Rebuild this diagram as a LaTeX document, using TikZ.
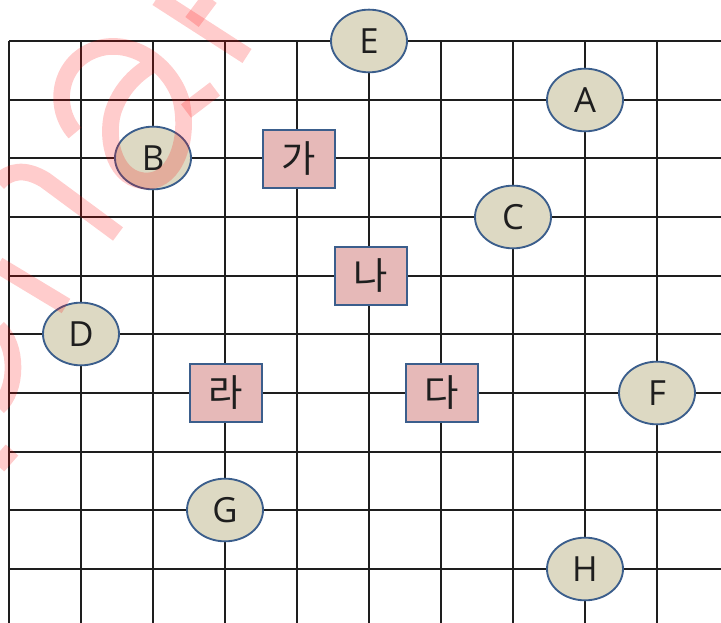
\documentclass[tikz,border=0pt]{standalone}
\usepackage{fontspec}
\setmainfont{Noto Sans CJK KR}
\newfontfamily\latnfont{Open Sans}
\usetikzlibrary{shapes.geometric}
\definecolor{SpotFill}{HTML}{DDD9C3}
\definecolor{BoxFill}{HTML}{E6B9B8}
\definecolor{EdgeBlue}{HTML}{3B5E8C}
\definecolor{GridInk}{HTML}{1E1E1E}
\definecolor{MarkRed}{HTML}{FF0000}

\begin{document}
\begin{tikzpicture}[
    x=0.75pt, y=-0.75pt,
    gridline/.style={
      draw=GridInk,
      line width=1.3pt
    },
    spot/.style={
      ellipse,
      draw=EdgeBlue,
      fill=SpotFill,
      line width=1.4pt,
      minimum width=57pt,
      minimum height=47pt,
      inner sep=0pt,
      text=GridInk,
      font=\latnfont\fontsize{26}{26}\selectfont
    },
    site/.style={
      rectangle,
      draw=EdgeBlue,
      fill=BoxFill,
      line width=1.4pt,
      minimum width=54pt,
      minimum height=44pt,
      inner sep=0pt,
      text=GridInk,
      font=\fontsize{28}{28}\selectfont
    },
    inkstroke/.style={
      draw=MarkRed,
      draw opacity=0.2,
      line width=12.5pt
    }]

    \useasboundingbox (0,0) rectangle (721,623);

    % Grid
    \foreach \i in {0,...,9}
      \draw[gridline] (9,41+58.67*\i) -- (721,41+58.67*\i);
    \foreach \i in {0,...,9}
      \draw[gridline] (9+72*\i,41) -- (9+72*\i,623);

    % Oval markers
    \node[spot] (E) at (369,41) {E};
    \node[spot] (A) at (585,100) {A};
    \node[spot] (B) at (153,158) {B};
    \node[spot] (C) at (513,217) {C};
    \node[spot] (D) at (81,334) {D};
    \node[spot] (F) at (657,393) {F};
    \node[spot] (G) at (225,510) {G};
    \node[spot] (H) at (585,569) {H};

    % Square sites
    \node[site] (ga) at (299,159) {가};
    \node[site] (na) at (371,276) {나};
    \node[site] (da) at (442,393) {다};
    \node[site] (ra) at (226,393) {라};

    % Watermark strokes
    \draw[inkstroke] (75,133) .. controls (50,105) and (60,55) .. (105,47)
      .. controls (140,42) and (172,70) .. (181,100)
      .. controls (190,140) and (175,180) .. (148,181)
      .. controls (115,182) and (105,140) .. (113,112)
      .. controls (120,90) and (135,75) .. (150,66);
    \draw[inkstroke] (186,111) -- (215,89);
    \draw[inkstroke] (157,-2) -- (247,56);
    \draw[inkstroke] (192,22) -- (210,-2);
    \draw[inkstroke] (-2,183) .. controls (10,170) and (25,168) .. (45,180) -- (118,234);
    \draw[inkstroke] (-2,265) -- (66,306);
    \draw[inkstroke] (-2,328) .. controls (18,345) and (18,390) .. (-2,407);
    \draw[inkstroke] (12,450) -- (-2,466);
  \end{tikzpicture}
\end{document}
